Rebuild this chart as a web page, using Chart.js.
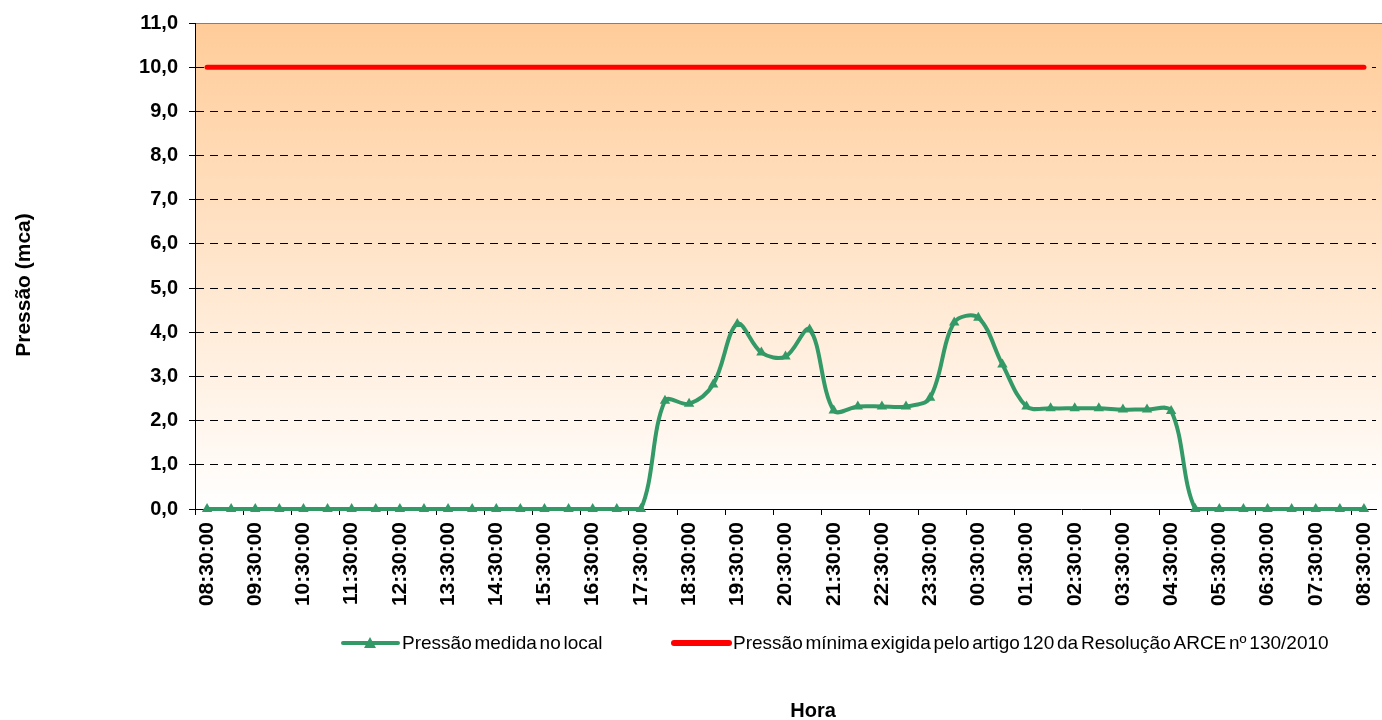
<!DOCTYPE html>
<html>
<head>
<meta charset="utf-8">
<title>Pressão medida no local</title>
<script src="https://cdn.jsdelivr.net/npm/chart.js@4.4.0/dist/chart.umd.min.js"></script>
<style>
    body { margin: 0; background: #fff; }
    #box { width: 1382px; height: 720px; position: relative; }
</style>
</head>
<body>
<div id="box"><canvas id="myChart"></canvas></div>
<script>
let horas = [
    "08:30:00", "09:00:00", "09:30:00", "10:00:00", "10:30:00", "11:00:00", "11:30:00",
    "12:00:00", "12:30:00", "13:00:00", "13:30:00", "14:00:00", "14:30:00", "15:00:00",
    "15:30:00", "16:00:00", "16:30:00", "17:00:00", "17:30:00", "18:00:00", "18:30:00",
    "19:00:00", "19:30:00", "20:00:00", "20:30:00", "21:00:00", "21:30:00", "22:00:00",
    "22:30:00", "23:00:00", "23:30:00", "00:00:00", "00:30:00", "01:00:00", "01:30:00",
    "02:00:00", "02:30:00", "03:00:00", "03:30:00", "04:00:00", "04:30:00", "05:00:00",
    "05:30:00", "06:00:00", "06:30:00", "07:00:00", "07:30:00", "08:00:00", "08:30:00"
];

let pressaoMedida = [
    0, 0, 0, 0, 0, 0, 0, 0, 0, 0, 0, 0, 0, 0, 0, 0, 0, 0, 0,
    2.45, 2.38, 2.82, 4.19, 3.54, 3.45, 4.06, 2.23, 2.32, 2.32, 2.32, 2.52,
    4.22, 4.33, 3.27, 2.32, 2.28, 2.28, 2.28, 2.25, 2.25, 2.22,
    0, 0, 0, 0, 0, 0, 0, 0
];

let pressaoMinima = [
    10, 10, 10, 10, 10, 10, 10, 10, 10, 10, 10, 10, 10, 10, 10, 10, 10,
    10, 10, 10, 10, 10, 10, 10, 10, 10, 10, 10, 10, 10, 10, 10, 10, 10,
    10, 10, 10, 10, 10, 10, 10, 10, 10, 10, 10, 10, 10, 10, 10
];

let nomeMedida = "Pressão medida no local";
let nomeMinima = "Pressão mínima exigida pelo artigo 120 da Resolução ARCE nº 130/2010";

let fonte = 'Arial, "Liberation Sans", sans-serif';
let verde = "#339966";
let vermelho = "#ff0000";

// gradient behind the plot and the grey top border
let fundo = {
    id: "fundo",
    beforeDraw(chart) {
        let a = chart.chartArea;
        let ctx = chart.ctx;
        let g = ctx.createLinearGradient(0, a.top, 0, a.bottom);
        g.addColorStop(0, "#ffcc99");
        g.addColorStop(1, "#ffffff");
        ctx.save();
        ctx.fillStyle = g;
        ctx.fillRect(a.left, a.top, a.right - a.left + 10, a.bottom - a.top);
        ctx.strokeStyle = "#808080";
        ctx.lineWidth = 1;
        ctx.beginPath();
        ctx.moveTo(a.left, a.top + 0.5);
        ctx.lineTo(a.right + 10, a.top + 0.5);
        ctx.stroke();
        ctx.restore();
    }
};

// legend and axis titles placed like the original sheet
let textos = {
    id: "textos",
    afterDraw(chart) {
        let ctx = chart.ctx;
        let ds = chart.data.datasets;
        ctx.save();

        ctx.fillStyle = "#000";
        ctx.font = "bold 21px " + fonte;
        ctx.textAlign = "center";
        ctx.textBaseline = "middle";
        ctx.translate(24, 285);
        ctx.rotate(-Math.PI / 2);
        ctx.fillText("Pressão (mca)", 0, 0);
        ctx.setTransform(1, 0, 0, 1, 0, 0);

        ctx.font = "bold 20px " + fonte;
        ctx.fillText("Hora", 813, 711);

        let itens = [
            { x: 343, ds: ds[0], largura: 4, marca: true },
            { x: 674, ds: ds[1], largura: 6, marca: false }
        ];
        let y = 643;
        ctx.font = "19px " + fonte;
        ctx.wordSpacing = "-2.5px";
        ctx.textAlign = "left";
        itens.forEach(it => {
            ctx.strokeStyle = it.ds.borderColor;
            ctx.lineWidth = it.largura;
            ctx.lineCap = "round";
            ctx.beginPath();
            ctx.moveTo(it.x, y);
            ctx.lineTo(it.x + 55, y);
            ctx.stroke();
            if (it.marca) {
                ctx.fillStyle = it.ds.borderColor;
                ctx.beginPath();
                ctx.moveTo(it.x + 27, y - 6);
                ctx.lineTo(it.x + 33, y + 5);
                ctx.lineTo(it.x + 21, y + 5);
                ctx.closePath();
                ctx.fill();
            }
            ctx.fillStyle = "#000";
            ctx.fillText(it.ds.label, it.x + 59, y + 1);
        });
        ctx.restore();
    }
};

new Chart(document.getElementById("myChart"), {
    type: "line",
    data: {
        labels: horas,
        datasets: [{
            label: nomeMedida,
            data: pressaoMedida,
            borderColor: verde,
            backgroundColor: verde,
            borderWidth: 4,
            tension: 0.35,
            pointStyle: "triangle",
            pointRadius: 6,
            pointBorderWidth: 0,
            pointBackgroundColor: verde,
            clip: 12,
            order: 1
        }, {
            label: nomeMinima,
            data: pressaoMinima,
            borderColor: vermelho,
            backgroundColor: vermelho,
            borderWidth: 5,
            borderCapStyle: "round",
            pointRadius: 0,
            order: 2
        }]
    },
    options: {
        responsive: true,
        maintainAspectRatio: false,
        animation: false,
        layout: { padding: { top: 21, right: 4, bottom: 106, left: 0 } },
        plugins: {
            legend: { display: false },
            tooltip: { enabled: false }
        },
        scales: {
            x: {
                offset: true,
                afterFit: s => {
                    s.height = 105;
                    s.paddingLeft = 0;
                    s.paddingRight = 0;
                },
                border: { color: "#000", width: 1 },
                grid: {
                    offset: true,
                    drawOnChartArea: false,
                    tickLength: 6,
                    color: c => c.index % 2 === 0 ? "#000" : "rgba(0,0,0,0)",
                    tickColor: c => c.index % 2 === 0 ? "#000" : "rgba(0,0,0,0)"
                },
                ticks: {
                    autoSkip: false,
                    maxRotation: 90,
                    minRotation: 90,
                    padding: 7,
                    color: "#000",
                    font: { family: fonte, size: 21, weight: "bold" },
                    callback: function (v, i) {
                        return i % 2 === 0 ? this.getLabelForValue(v) : "";
                    }
                }
            },
            y: {
                min: 0,
                max: 11,
                afterFit: s => { s.width = 195; },
                border: { color: "#000", width: 1, dash: [8, 6] },
                grid: {
                    tickLength: 6,
                    tickColor: "#000",
                    tickBorderDash: [],
                    color: c => (c.tick && (c.tick.value === 0 || c.tick.value === 11)) ? "rgba(0,0,0,0)" : "#000"
                },
                ticks: {
                    stepSize: 1,
                    padding: 11,
                    color: "#000",
                    font: { family: fonte, size: 20, weight: "bold" },
                    callback: v => v.toFixed(1).replace(".", ",")
                }
            }
        }
    },
    plugins: [fundo, textos]
});
</script>
</body>
</html>
